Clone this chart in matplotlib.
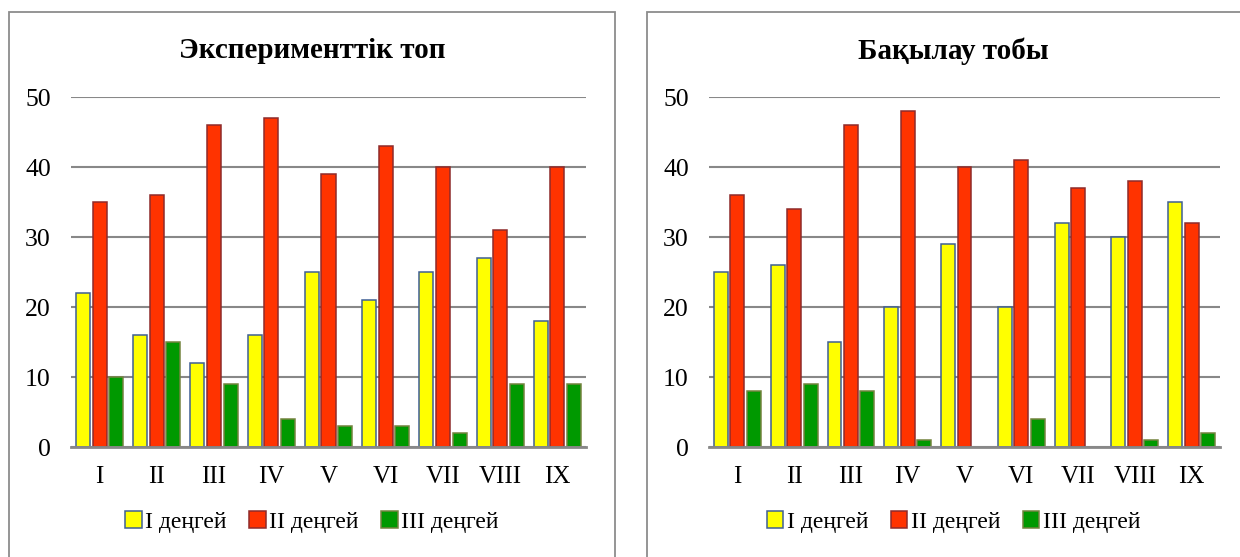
"""Деңгейлер бойынша бөлу: эксперименттік және бақылау топтары."""
import matplotlib
matplotlib.use("Agg")
import matplotlib.pyplot as plt
import numpy as np
from matplotlib.patches import Rectangle

plt.rcParams["font.family"] = ["Liberation Serif", "DejaVu Serif"]

grades = ["I", "II", "III", "IV", "V", "VI", "VII", "VIII", "IX"]
levels = ["I деңгей", "II деңгей", "III деңгей"]

exp_level1 = [22, 16, 12, 16, 25, 21, 25, 27, 18]
exp_level2 = [35, 36, 46, 47, 39, 43, 40, 31, 40]
exp_level3 = [10, 15, 9, 4, 3, 3, 2, 9, 9]

ctrl_level1 = [25, 26, 15, 20, 29, 20, 32, 30, 35]
ctrl_level2 = [36, 34, 46, 48, 40, 41, 37, 38, 32]
ctrl_level3 = [8, 9, 8, 1, 0, 4, 0, 1, 2]

faces = ["#ffff00", "#ff3300", "#009900"]
edges = ["#3f5f94", "#8e2b2b", "#74843f"]
GRID = "#888888"

W, H = 1240, 557
fig = plt.figure(figsize=(W / 100, H / 100), dpi=100)


def px_axes(x0, x1, y_top, y_bot):
    return fig.add_axes([x0 / W, (H - y_bot) / H, (x1 - x0) / W, (y_bot - y_top) / H])


def panel(x0, x1, title, series, ax_x0, ax_x1):
    # outer frame of the chart
    fig.patches.append(Rectangle((x0 / W, -0.1), (x1 - x0) / W, (H - 12) / H + 0.1,
                                 transform=fig.transFigure, fill=False,
                                 edgecolor="#8c8c8c", lw=1.3, zorder=0))
    ax = px_axes(ax_x0, ax_x1, 97, 447)
    x = np.arange(len(grades))
    bw, step = 0.245, 0.29
    for i, vals in enumerate(series):
        bars = ax.bar(x + (i - 1) * step, vals, bw, color=faces[i],
                      edgecolor=edges[i], lw=1.1, label=levels[i], zorder=3)
        for b, v in zip(bars, vals):
            if v == 0:
                b.set_visible(False)
    ax.set_xlim(-0.5, len(grades) - 0.5)
    ax.set_ylim(0, 50)
    ax.set_yticks(range(0, 51, 10))
    ax.set_xticks(x, grades)
    ax.yaxis.grid(True, color=GRID, lw=1.5)
    ax.set_axisbelow(True)
    for s in ("top", "right", "left"):
        ax.spines[s].set_visible(False)
    ax.spines["bottom"].set_color(GRID)
    ax.spines["bottom"].set_linewidth(2)
    ax.spines["bottom"].set_zorder(4)
    ax.tick_params(axis="y", length=0, pad=14.5, labelsize=18.5)
    ax.tick_params(axis="x", length=0, pad=14, labelsize=18)
    cx = (x0 + x1) / 2 / W
    fig.text(cx, (H - 51) / H, title, ha="center", va="center",
             fontsize=21, fontweight="bold")
    handles, labels = ax.get_legend_handles_labels()
    fig.legend(handles, labels, loc="center", bbox_to_anchor=(cx, (H - 522) / H),
               ncol=3, frameon=False, fontsize=17, handlelength=0.7,
               handleheight=0.7, handletextpad=0.15, columnspacing=0.95)
    return ax


panel(9, 615, "Эксперименттік топ", [exp_level1, exp_level2, exp_level3], 71, 586)
panel(647, 1260, "Бақылау тобы", [ctrl_level1, ctrl_level2, ctrl_level3], 709, 1220)

fig.savefig("out.png", dpi=100)
